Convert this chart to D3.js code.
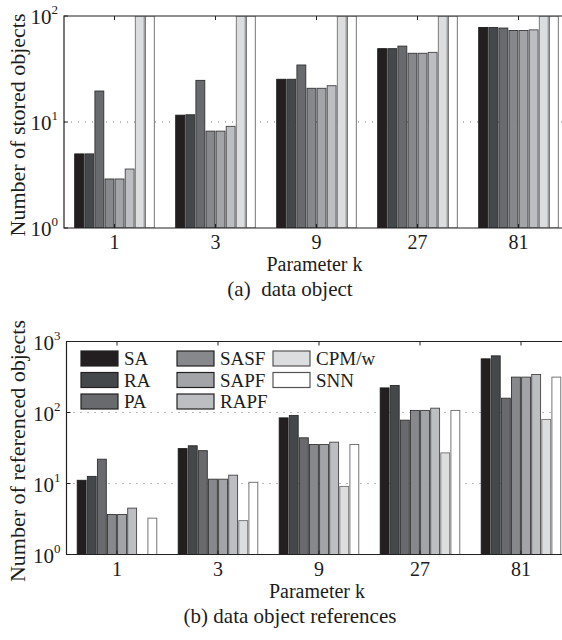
<!DOCTYPE html>
<html>
<head>
<meta charset="utf-8">
<script src="https://cdn.jsdelivr.net/npm/d3@7"></script>
<style>
  body { margin: 0; background: #fff; }
  text { font-family: "Liberation Serif", "DejaVu Serif", serif; fill: #1c1c1c; white-space: pre; }
</style>
</head>
<body>
<div id="chart"></div>
<script>
// categories
var groups = ["1", "3", "9", "27", "81"];
var series = ["SA", "RA", "PA", "SASF", "SAPF", "RAPF", "CPM/w", "SNN"];

// (a) number of stored objects, one array per method (k = 1, 3, 9, 27, 81)
var storedSA   = [5.0, 11.6, 25.3, 49.2, 78];
var storedRA   = [5.0, 11.7, 25.3, 49.2, 78];
var storedPA   = [19.6, 24.7, 34.5, 52, 77];
var storedSASF = [2.9, 8.2, 20.8, 44.5, 73];
var storedSAPF = [2.9, 8.2, 20.8, 44.5, 73];
var storedRAPF = [3.6, 9.1, 22, 45.4, 74];
var storedCPM  = [100, 100, 100, 100, 100];
var storedSNN  = [100, 100, 100, 100, 100];

// (b) number of referenced objects
var refSA   = [11.1, 31, 84, 222, 570];
var refRA   = [12.6, 34, 91, 240, 628];
var refPA   = [22, 29, 44, 78, 159];
var refSASF = [3.66, 11.5, 35.4, 107, 315];
var refSAPF = [3.66, 11.5, 35.4, 107, 315];
var refRAPF = [4.5, 13.1, 38.2, 115, 343];
var refCPM  = [null, 3.0, 9.1, 27, 80];
var refSNN  = [3.25, 10.4, 35.4, 107, 315];

var fills   = ["#231f20", "#45484b", "#696a6e", "#87888c", "#a3a4a8", "#bdbec2", "#dcddde", "#ffffff"];
var strokes = ["#1a1a1a", "#2a2a2a", "#303030", "#333333", "#3a3a3a", "#444444", "#707070", "#666666"];

var svg = d3.select("#chart")
    .append("svg")
    .attr("width", 562)
    .attr("height", 640)
    .style("display", "block");

svg.append("rect").attr("width", 562).attr("height", 640).attr("fill", "#fff");

function drawPanel(p) {
    var table = groups.map(function (g, gi) {
        return { group: g, values: series.map(function (s, si) {
            return { name: s, idx: si, value: p.data[si][gi] };
        }) };
    });

    var x0 = d3.scaleBand().domain(groups).range([p.left, p.left + 5 * 101]);
    var x1 = d3.scaleBand().domain(series).range([0, x0.bandwidth()]).paddingOuter(1);
    var y = d3.scaleLog().domain(p.domain).range([p.bottom, p.top]);

    var id = "clip" + p.name;
    svg.append("clipPath").attr("id", id)
        .append("rect")
        .attr("x", p.left).attr("y", p.top)
        .attr("width", 600).attr("height", p.bottom - p.top);

    var g = svg.append("g");

    // dotted grid
    g.selectAll("grid")
        .data(p.grid)
        .enter()
        .append("line")
        .attr("x1", p.left).attr("x2", 562)
        .attr("y1", function (d) { return y(d) })
        .attr("y2", function (d) { return y(d) })
        .attr("stroke", "#777")
        .attr("stroke-width", 1)
        .attr("stroke-dasharray", "1,6");

    // bars
    var bw = x1.bandwidth() * 0.88;
    g.append("g").attr("clip-path", "url(#" + id + ")")
        .selectAll("grp")
        .data(table)
        .enter()
        .append("g")
        .attr("transform", function (d) { return "translate(" + x0(d.group) + ",0)" })
        .selectAll("rect")
        .data(function (d) { return d.values.filter(function (v) { return v.value != null }) })
        .enter()
        .append("rect")
        .attr("x", function (d) { return x1(d.name) + (x1.bandwidth() - bw) / 2 })
        .attr("width", bw)
        .attr("y", function (d) { return y(d.value) })
        .attr("height", function (d) { return p.bottom - y(d.value) })
        .attr("fill", function (d) { return fills[d.idx] })
        .attr("stroke", function (d) { return strokes[d.idx] })
        .attr("stroke-width", 0.9);

    // frame
    g.append("path")
        .attr("d", "M562," + p.top + "H" + p.left + "V" + p.bottom + "H562")
        .attr("fill", "none")
        .attr("stroke", "#222")
        .attr("stroke-width", 1.2);

    // x ticks (bottom and top) + labels
    groups.forEach(function (k) {
        var cx = x0(k) + x0.bandwidth() / 2;
        g.append("line").attr("x1", cx).attr("x2", cx)
            .attr("y1", p.bottom).attr("y2", p.bottom - 4).attr("stroke", "#222");
        g.append("line").attr("x1", cx).attr("x2", cx)
            .attr("y1", p.top).attr("y2", p.top + 4).attr("stroke", "#222");
        g.append("text").attr("x", cx).attr("y", p.bottom + 21)
            .attr("text-anchor", "middle").style("font-size", "20px").text(k);
    });

    // y ticks with 10^n labels
    p.ticks.forEach(function (t) {
        var ty = y(t);
        g.append("line").attr("x1", p.left).attr("x2", p.left + 4)
            .attr("y1", ty).attr("y2", ty).attr("stroke", "#222");
        var lbl = g.append("text")
            .attr("x", p.left - 6).attr("y", ty + 8)
            .attr("text-anchor", "end")
            .style("font-size", "21px");
        lbl.append("tspan").text("10");
        lbl.append("tspan").attr("dy", -10).style("font-size", "13px").text(Math.round(Math.log10(t)));
    });

    // axis titles
    g.append("text")
        .attr("transform", "translate(25," + ((p.top + p.bottom) / 2 + 3) + ") rotate(-90)")
        .attr("text-anchor", "middle")
        .style("font-size", "22px")
        .text(p.ylabel);
    g.append("text")
        .attr("x", p.left + 505 / 2 - 2).attr("y", p.bottom + 43)
        .attr("text-anchor", "middle")
        .style("font-size", "20px")
        .text("Parameter k");
    g.append("text")
        .attr("x", 290).attr("y", p.bottom + 68)
        .attr("text-anchor", "middle")
        .style("font-size", "21px")
        .text(p.caption);
    return g;
}

drawPanel({
    name: "a", left: 64, top: 16, bottom: 228,
    domain: [1, 100], ticks: [1, 10, 100], grid: [10],
    data: [storedSA, storedRA, storedPA, storedSASF, storedSAPF, storedRAPF, storedCPM, storedSNN],
    ylabel: "Number of stored objects",
    caption: "(a)  data object"
});

var gb = drawPanel({
    name: "b", left: 66.5, top: 341.5, bottom: 554.5,
    domain: [1, 1000], ticks: [1, 10, 100, 1000], grid: [10, 100],
    data: [refSA, refRA, refPA, refSASF, refSAPF, refRAPF, refCPM, refSNN],
    ylabel: "Number of referenced objects",
    caption: "(b) data object references"
});

// legend, three columns
var legX = [81, 177, 273];
var leg = gb.selectAll("legend")
    .data(series)
    .enter()
    .append("g")
    .attr("transform", function (d, i) {
        return "translate(" + legX[Math.floor(i / 3)] + "," + (351 + (i % 3) * 21.5) + ")";
    });
leg.append("rect")
    .attr("width", 37).attr("height", 15)
    .attr("fill", function (d, i) { return fills[i] })
    .attr("stroke", function (d, i) { return i > 5 ? "#555" : "#222" })
    .attr("stroke-width", 1.2);
leg.append("text")
    .attr("x", 43).attr("y", 14)
    .style("font-size", "19px")
    .text(function (d) { return d });
</script>
</body>
</html>
